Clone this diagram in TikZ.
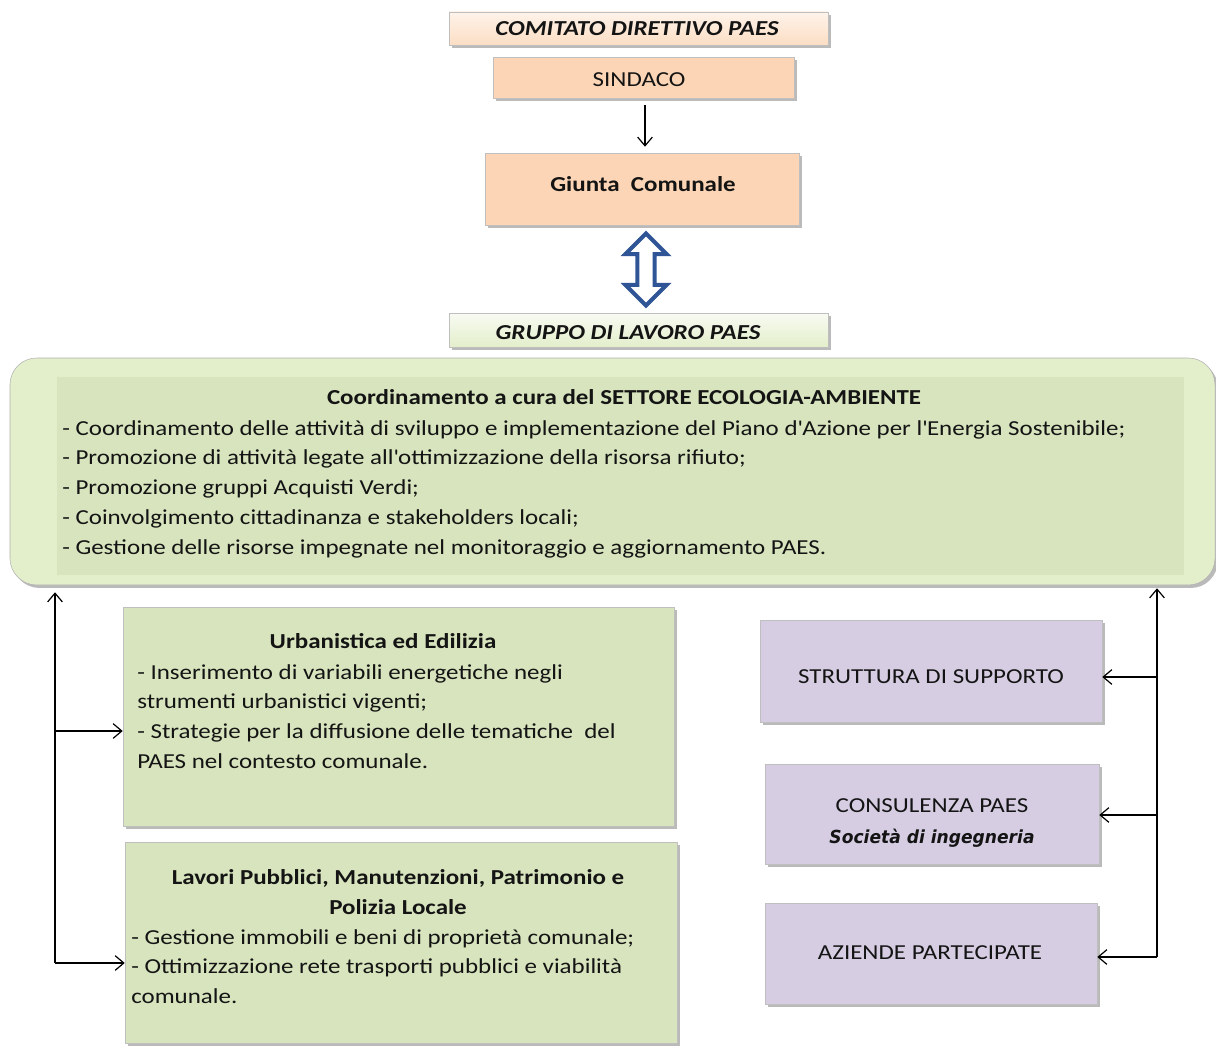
\documentclass[tikz,border=0pt]{standalone}
\usepackage{fontspec}
\setmainfont{Carlito}[FakeStretch=1.17]
\newfontfamily\socfont{DejaVu Sans}[FakeStretch=0.95]
\usetikzlibrary{fit,shadows,shapes.arrows,arrows.meta,calc}
\definecolor{peach}{HTML}{FBD5B5}
\definecolor{peachlt}{HTML}{FEF3EA}
\definecolor{greenbox}{HTML}{D7E4BD}
\definecolor{greenlt}{HTML}{E3EECB}
\definecolor{greenwh}{HTML}{F4F8EA}
\definecolor{purplebox}{HTML}{D6CDE3}
\definecolor{arrblue}{HTML}{2F5597}
\definecolor{textc}{HTML}{141414}
\begin{document}
\begin{tikzpicture}[x=0.75pt,y=-0.75pt,
  box/.style={inner sep=0pt, draw=black!25, line width=0.4pt,
    drop shadow={shadow xshift=2pt, shadow yshift=-2.2pt, opacity=0.45, fill=black!60}},
  pbox/.style={box, fill=peach},
  gbox/.style={box, fill=greenbox},
  vbox/.style={box, fill=purplebox},
  txt/.style={inner sep=0pt, text=textc, font=\fontsize{16}{22.3}\selectfont},
  btxt/.style={txt, font=\fontsize{16}{22.3}\selectfont\bfseries},
  arr/.style={-{Straight Barb[length=6.5pt,width=11pt]}, line width=0.9pt, black}
]
\useasboundingbox (0,0) rectangle (1216,1045);
\fill[white] (0,0) rectangle (1216,1045);

% top boxes
\node[box, top color=peachlt, bottom color=peach!80!white, fit={(449,12) (828,45)}] (com) {};
\node[txt, font=\fontsize{16}{18}\selectfont\bfseries\itshape] at (637,29) {COMITATO DIRETTIVO PAES};
\node[pbox, fit={(493,57) (794,98)}] (sind) {};
\node[txt] at (639,80) {SINDACO};
\node[pbox, fit={(485,153) (799,225)}] (giunta) {};
\node[btxt] at (643,184) {Giunta\ \ Comunale};
\draw[arr] ($(sind.south)+(1.5,7)$) -- ($(giunta.north)+(3,-6)$);

\node[box, top color=greenwh!60!white, bottom color=greenlt, fit={(449,313) (828,347)}] (gruppo) {};
\node[txt, font=\fontsize{16}{18}\selectfont\bfseries\itshape] at (628,333) {GRUPPO DI LAVORO PAES};

\node[double arrow, draw=arrblue, line width=3pt, fill=white, shape border rotate=90,
      inner sep=5pt, double arrow head extend=9pt, minimum height=54pt, minimum width=1pt]
      (darr) at (646,269.5) {};

% main box
\node[box, draw=black!30, rounded corners=20pt, fill=greenlt, fit={(10,358) (1215,585)}] (main) {};
\fill[greenbox] (57,377) rectangle (1184,575);
\node[btxt] at (624,397) {Coordinamento a cura del SETTORE ECOLOGIA-AMBIENTE};
\node[txt, anchor=north west, align=left] at (62,420) {- Coordinamento delle attività di sviluppo e implementazione del Piano d\textquotesingle Azione per l\textquotesingle Energia Sostenibile;\\
- Promozione di attività legate all\textquotesingle ottimizzazione della risorsa rifiuto;\\
- Promozione gruppi Acquisti Verdi;\\
- Coinvolgimento cittadinanza e stakeholders locali;\\
- Gestione delle risorse impegnate nel monitoraggio e aggiornamento PAES.};

% left boxes
\node[gbox, fit={(123,607) (674,826)}] (urb) {};
\node[btxt] at (383,641) {Urbanistica ed Edilizia};
\node[txt, anchor=north west, align=left] at (137,664) {- Inserimento di variabili energetiche negli\\
strumenti urbanistici vigenti;\\
- Strategie per la diffusione delle tematiche\ \ del\\
PAES nel contesto comunale.};

\node[gbox, fit={(125,842) (677,1043)}] (lav) {};
\node[btxt, align=center] at (398,892) {Lavori Pubblici, Manutenzioni, Patrimonio e\\Polizia Locale};
\node[txt, anchor=north west, align=left] at (131,929) {- Gestione immobili e beni di proprietà comunale;\\
- Ottimizzazione rete trasporti pubblici e viabilità\\
comunale.};

% right boxes
\node[vbox, fit={(760,620) (1102,722)}] (str) {};
\node[txt] at (931,677) {STRUTTURA DI SUPPORTO};
\node[vbox, fit={(765,764) (1099,864)}] (cons) {};
\node[txt] at (932,806) {CONSULENZA PAES};
\node[txt, font=\fontsize{13.5}{16}\socfont\bfseries\itshape] at (932,838) {Società di ingegneria};
\node[vbox, fit={(765,903) (1097,1004)}] (az) {};
\node[txt] at (930,953) {AZIENDE PARTECIPATE};

% connectors left
\coordinate (lb) at (55,963);
\coordinate (lu) at (55,731);
\draw[line width=0.9pt] (lb) -- (lu);
\draw[arr] (lu) -- ($(lu |- main.south)+(0,7)$);
\draw[arr] (lu) -- (urb.west |- lu);
\draw[arr] (lb) -- (lav.west |- lb);

% connectors right
\coordinate (ra) at (1157,957);
\coordinate (rc) at (1157,815);
\coordinate (rs) at (1157,677);
\draw[arr] (ra) -- ($(ra |- main.south)+(0,3)$);
\draw[arr] (rs) -- (str.east |- rs);
\draw[arr] (rc) -- (cons.east |- rc);
\draw[arr] (ra) -- (az.east |- ra);
\end{tikzpicture}
\end{document}
